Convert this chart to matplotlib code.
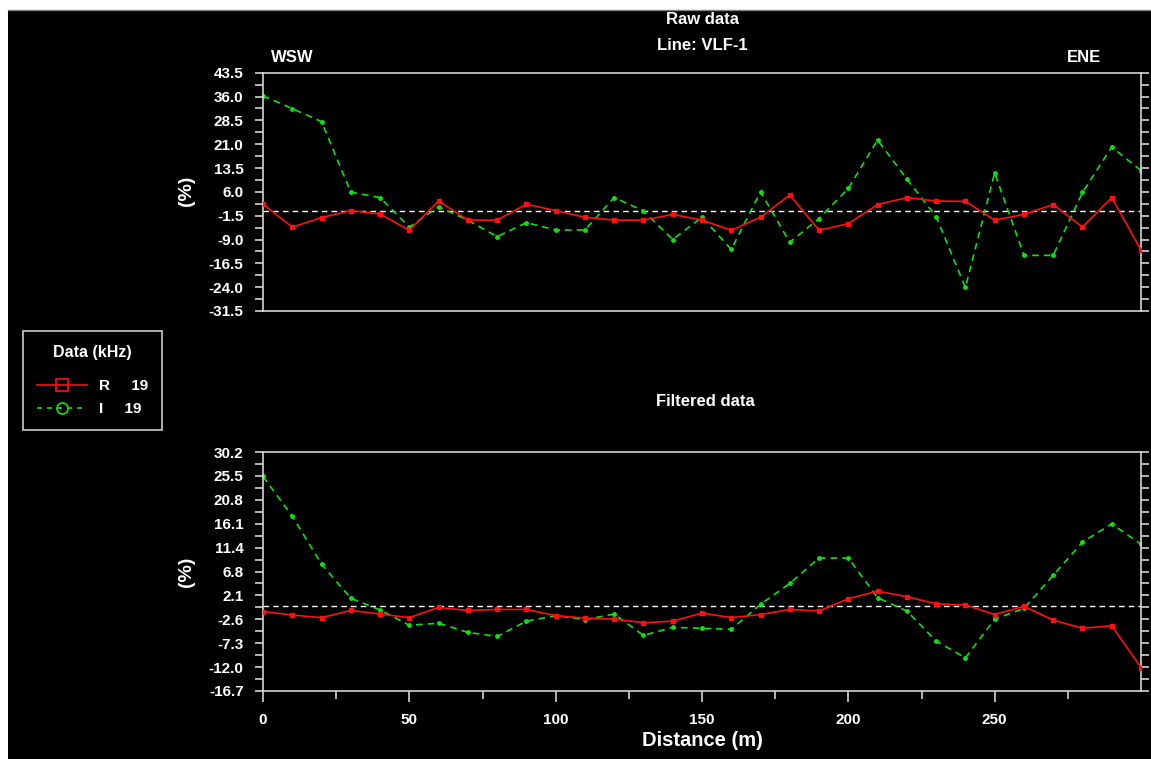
import matplotlib.pyplot as plt
from matplotlib.lines import Line2D
from matplotlib.patches import Rectangle
import numpy as np

# VLF profile, station spacing 10 m
distance = [0, 10, 20, 30, 40, 50, 60, 70, 80, 90, 100, 110, 120, 130, 140, 150,
            160, 170, 180, 190, 200, 210, 220, 230, 240, 250, 260, 270, 280, 290, 300]

raw_r = [2.1, -5.1, -2.1, 0.1, -1.0, -6.1, 3.1, -2.9, -2.9, 2.1, 0.1, -2.0, -2.9, -2.9,
         -1.1, -2.9, -6.1, -2.0, 5.0, -6.1, -4.0, 2.0, 4.2, 3.1, 3.0, -2.9, -1.1, 2.0,
         -5.1, 4.2, -12.3]
raw_i = [36.2, 32.2, 28.1, 5.9, 4.2, -5.1, 1.3, -2.9, -8.1, -3.7, -6.0, -6.0, 4.2, 0.0,
         -9.0, -2.0, -12.1, 6.0, -9.9, -2.4, 7.1, 22.3, 10.0, -1.8, -24.1, 12.0, -14.0,
         -14.0, 5.8, 20.1, 12.7]

filt_r = [-1.1, -1.8, -2.3, -0.9, -1.6, -2.3, -0.3, -0.9, -0.7, -0.7, -1.9, -2.4, -2.6,
          -3.3, -3.0, -1.4, -2.3, -1.7, -0.7, -1.0, 1.4, 2.9, 1.8, 0.4, 0.2, -1.7, -0.1,
          -2.8, -4.4, -3.9, -12.1]
filt_i = [25.4, 17.6, 8.2, 1.5, -0.8, -3.8, -3.4, -5.2, -6.0, -3.0, -1.9, -2.7, -1.6,
          -5.8, -4.2, -4.4, -4.6, 0.3, 4.4, 9.4, 9.4, 1.6, -1.0, -6.9, -10.2, -2.6, -0.5,
          6.0, 12.5, 16.1, 12.1]

raw_ticks = np.arange(-31.5, 43.6, 7.5)
filt_ticks = -16.7 + 4.69 * np.arange(11)
x_major = [0, 50, 100, 150, 200, 250]

RED = '#ff1010'
GREEN = '#10e010'
AXC = '#d4d4d4'

plt.rcParams['font.family'] = 'Liberation Sans'
plt.rcParams['font.weight'] = 'bold'

W, H = 1151, 759
fig = plt.figure(figsize=(W / 100, H / 100), dpi=100, facecolor='black')

# white frame strip along top/left edge
fig.patches.append(Rectangle((0, 1 - 10 / H), 1, 10 / H, transform=fig.transFigure,
                             facecolor='white', edgecolor='none', zorder=-5))
fig.patches.append(Rectangle((0, 0), 8 / W, 1, transform=fig.transFigure,
                             facecolor='white', edgecolor='none', zorder=-5))
fig.lines.append(Line2D([8 / W, 1], [1 - 10 / H, 1 - 10 / H], transform=fig.transFigure,
                        color='#808080', lw=1))


def px(x0, y_top, x1, y_bot):
    return [x0 / W, 1 - y_bot / H, (x1 - x0) / W, (y_bot - y_top) / H]


def style_axes(ax, ticks):
    ax.set_facecolor('black')
    for s in ax.spines.values():
        s.set_color(AXC)
        s.set_linewidth(1.2)
    ax.set_xlim(0, 300)
    ax.set_ylim(ticks[0], ticks[-1])
    ax.set_yticks(ticks)
    ax.set_yticklabels([f'{t:.1f}' for t in ticks])
    ax.set_yticks((ticks[:-1] + ticks[1:]) / 2, minor=True)
    ax.tick_params(axis='y', which='both', left=True, right=True, labelright=False,
                   direction='out', color=AXC, labelcolor='white', labelsize=11)
    ax.tick_params(axis='y', which='major', length=6, width=1.2, pad=8)
    ax.tick_params(axis='y', which='minor', length=6, width=1.2)
    ax.axhline(0, color='white', lw=1, ls=(0, (4, 3)), zorder=1)


ax1 = fig.add_axes(px(263, 72.7, 1141, 311))
ax2 = fig.add_axes(px(263, 452, 1141, 691))

style_axes(ax1, raw_ticks)
ax1.set_xticks([])
ax1.plot(distance, raw_r, color=RED, lw=1.2, marker='s', ms=3, zorder=3)
ax1.plot(distance, raw_i, color=GREEN, lw=1.2, ls=(0, (4, 3)), marker='o', ms=2.5, zorder=2)

style_axes(ax2, filt_ticks)
ax2.set_xticks(x_major)
ax2.set_xticks([25, 75, 125, 175, 225, 275], minor=True)
ax2.tick_params(axis='x', which='both', direction='out', color=AXC, labelcolor='white',
                labelsize=11, width=1.2)
ax2.tick_params(axis='x', which='major', length=8, pad=8)
ax2.tick_params(axis='x', which='minor', length=6)
ax2.plot(distance, filt_r, color=RED, lw=1.2, marker='s', ms=3, zorder=3)
ax2.plot(distance, filt_i, color=GREEN, lw=1.2, ls=(0, (4, 3)), marker='o', ms=2.5, zorder=2)


def ftext(x, y, s, **kw):
    fig.text(x / W, 1 - y / H, s, color='white', fontweight='bold', **kw)


ftext(702, 20, 'Raw data', ha='center', va='center', fontsize=12)
ftext(702, 45, 'Line: VLF-1', ha='center', va='center', fontsize=12)
ftext(271, 57, 'WSW', ha='left', va='center', fontsize=12)
ftext(1101, 57, 'ENE', ha='right', va='center', fontsize=12)
ftext(187, 191, '(%)', ha='center', va='center', fontsize=14, rotation=90)
ftext(705, 401, 'Filtered data', ha='center', va='center', fontsize=12)
ftext(187, 572, '(%)', ha='center', va='center', fontsize=14, rotation=90)
ftext(702, 740, 'Distance (m)', ha='center', va='center', fontsize=14.5)

# legend box
handles = [Line2D([], [], color=RED, lw=1.2, marker='s', ms=8, mfc='none', mew=1.2),
           Line2D([], [], color=GREEN, lw=1.2, ls=(0, (3, 3)), marker='o', ms=8,
                  mfc='none', mew=1.2)]
leg = fig.legend(handles, ['R     19', 'I     19'], title='Data (kHz)',
                 loc='upper left', bbox_to_anchor=(23 / W, 1 - 331 / H),
                 frameon=True, fancybox=False, facecolor='black', edgecolor='white',
                 labelcolor='white', fontsize=11, title_fontsize=11.5,
                 handlelength=3.3, numpoints=1, borderpad=0.9, labelspacing=0.6,
                 handletextpad=0.8, borderaxespad=0)
leg.get_title().set_color('white')
leg.get_title().set_fontweight('bold')
leg.get_frame().set_linewidth(1.2)
leg._legend_box.sep = 14

fig.savefig('out.png', dpi=100, facecolor='black')
